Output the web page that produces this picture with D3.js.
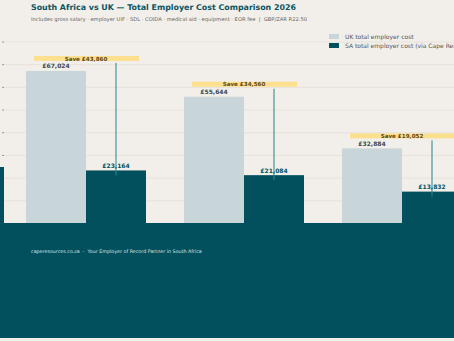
<!DOCTYPE html>
<html>
<head>
<meta charset="utf-8">
<script src="https://cdn.jsdelivr.net/npm/d3@7"></script>
<style>
  html, body { margin: 0; padding: 0; background: #f2eee9; overflow: hidden; }
  svg { display: block; font-family: "DejaVu Sans", sans-serif; }
</style>
</head>
<body>
<script>
// roles and costs (GBP)
var roles = ["Mid-Level\nSoftware Engineer", "Graduate\nAccountant", "Customer Support\nSpecialist"];
var ukCost = [67024, 55644, 32884];
var saCost = [23164, 21084, 13832];
var savings = [43860, 34560, 19052];
var series = ["UK total employer cost", "SA total employer cost (via Cape Resources)"];
var yTicks = [0, 10000, 20000, 30000, 40000, 50000, 60000, 70000, 80000];

var w = 454, h = 341;
var baseY = 223;
var teal = "#02505d", light = "#c8d6da", gold = "#fde08e";

var svg = d3.select("body").append("svg").attr("width", w).attr("height", h);

svg.append("rect").attr("width", w).attr("height", h).attr("fill", "#f2eee9");

var x = d3.scaleBand().domain(roles).range([7, 7 + 158 * 3]).padding(0);
var x1 = d3.scaleBand().domain(["UK", "SA"]).range([x.bandwidth() / 2 - 60, x.bandwidth() / 2 + 60]);
var y = d3.scaleLinear().domain([0, 80000]).range([baseY, 41.5]);

// gridlines + y axis ticks (labels are outside the visible frame in the original)
var yAxis = d3.axisLeft(y).tickValues(yTicks).tickSize(2).tickFormat("");
var ga = svg.append("g").attr("transform", "translate(4,0)").call(yAxis);
ga.select(".domain").remove();
ga.selectAll("line").attr("stroke", "#999");

svg.append("g").selectAll("line").data(yTicks).enter().append("line")
  .attr("x1", 4).attr("x2", w)
  .attr("y1", d => y(d) + 0.5).attr("y2", d => y(d) + 0.5)
  .attr("stroke", "#e4ded7").attr("stroke-width", 0.8);

// stray dark block at the left edge
svg.append("rect").attr("x", 0).attr("y", 167).attr("width", 4).attr("height", baseY - 167).attr("fill", teal);

var groups = svg.selectAll(".grp").data(roles).enter().append("g")
  .attr("class", "grp")
  .attr("transform", d => "translate(" + x(d) + ",0)");

groups.append("rect")
  .attr("x", x1("UK")).attr("width", x1.bandwidth())
  .attr("y", (d, i) => y(ukCost[i])).attr("height", (d, i) => baseY - y(ukCost[i]))
  .attr("fill", light);

groups.append("rect")
  .attr("x", x1("SA")).attr("width", x1.bandwidth())
  .attr("y", (d, i) => y(saCost[i])).attr("height", (d, i) => baseY - y(saCost[i]))
  .attr("fill", teal);

// savings highlight
var mid = x.bandwidth() / 2;
groups.append("rect")
  .attr("x", mid - 52).attr("width", 105)
  .attr("y", (d, i) => y(ukCost[i]) - 15).attr("height", 5)
  .attr("fill", gold);

groups.append("line")
  .attr("x1", x1("SA") + x1.bandwidth() / 2).attr("x2", x1("SA") + x1.bandwidth() / 2)
  .attr("y1", (d, i) => y(ukCost[i]) - 8)
  .attr("y2", (d, i) => y(saCost[i]) + 5)
  .attr("stroke", "#1f8a8e").attr("stroke-width", 1);

groups.append("text")
  .attr("x", mid).attr("y", (d, i) => y(ukCost[i]) - 10.3)
  .attr("text-anchor", "middle")
  .attr("fill", "#5b4a1a").style("font-size", "5.6px").style("font-weight", "bold")
  .text((d, i) => "Save £" + d3.format(",")(savings[i]));

groups.append("text")
  .attr("x", x1("UK") + x1.bandwidth() / 2).attr("y", (d, i) => y(ukCost[i]) - 2.5)
  .attr("text-anchor", "middle")
  .attr("fill", "#444").style("font-size", "6px").style("font-weight", "bold")
  .text((d, i) => "£" + d3.format(",")(ukCost[i]));

groups.append("text")
  .attr("x", x1("SA") + x1.bandwidth() / 2).attr("y", (d, i) => y(saCost[i]) - 2.5)
  .attr("text-anchor", "middle")
  .attr("fill", teal).style("font-size", "6px").style("font-weight", "bold")
  .text((d, i) => "£" + d3.format(",")(saCost[i]));

// footer panel
svg.append("rect").attr("x", 0).attr("y", baseY).attr("width", w).attr("height", 338 - baseY).attr("fill", teal);

// category labels (dark on dark, as in the original)
groups.append("text")
  .attr("x", mid).attr("y", 231)
  .attr("text-anchor", "middle")
  .attr("fill", "#2b6570").style("font-size", "5px")
  .selectAll("tspan").data(d => d.split("\n")).enter().append("tspan")
  .attr("x", mid).attr("dy", (d, i) => i ? 7 : 0)
  .text(d => d);

svg.append("text").attr("x", 31).attr("y", 253)
  .attr("fill", "#d6e4e6").style("font-size", "4.8px")
  .text("caperesources.co.za\u00a0 · \u00a0Your Employer of Record Partner in South Africa");

// title block
svg.append("text").attr("x", 31).attr("y", 10)
  .attr("fill", "#0b5563").style("font-size", "7.9px").style("font-weight", "bold")
  .text("South Africa vs UK — Total Employer Cost Comparison 2026");
svg.append("text").attr("x", 31).attr("y", 21)
  .attr("fill", "#666").style("font-size", "5.2px")
  .text("Includes gross salary · employer UIF · SDL · COIDA · medical aid · equipment · EOR fee\u00a0 | \u00a0GBP/ZAR R22.50");

// legend
var lg = svg.append("g").attr("transform", "translate(329,34)");
lg.selectAll("rect").data(series).enter().append("rect")
  .attr("x", 0).attr("y", (d, i) => i * 9).attr("width", 10).attr("height", 5)
  .attr("fill", (d, i) => i ? teal : light);
lg.selectAll("text").data(series).enter().append("text")
  .attr("x", 16).attr("y", (d, i) => i * 9 + 5)
  .attr("fill", "#555").style("font-size", "6px")
  .text(d => d);
</script>
</body>
</html>
